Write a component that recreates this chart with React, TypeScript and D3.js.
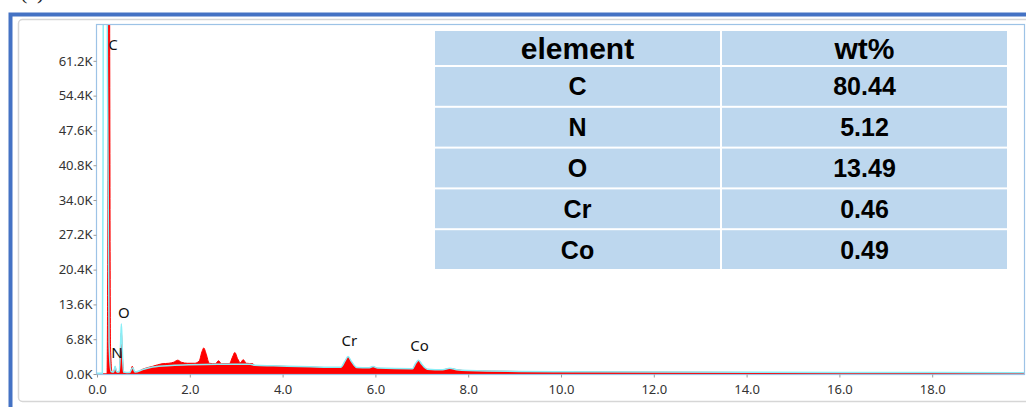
import { useEffect, useRef } from "react";
import * as d3 from "d3";

// EDS spectrum (keV, counts)
const spectrumKeV = [0, 0.215, 0.23, 0.245, 0.26, 0.275, 0.29, 0.32, 0.35, 0.375, 0.392, 0.41, 0.44, 0.48, 0.5, 0.525, 0.55, 0.58, 0.65, 0.72, 0.76, 0.8, 0.85, 1.0, 1.2, 1.4, 1.55, 1.65, 1.74, 1.82, 1.95, 2.1, 2.2, 2.26, 2.3, 2.35, 2.42, 2.55, 2.62, 2.68, 2.85, 2.92, 2.97, 3.03, 3.09, 3.15, 3.22, 3.36, 3.4, 3.8, 4.2, 4.6, 5.0, 5.25, 5.35, 5.41, 5.48, 5.6, 5.85, 5.95, 6.05, 6.4, 6.8, 6.87, 6.93, 7.0, 7.12, 7.45, 7.55, 7.65, 7.75, 8.0, 9.0, 10.0, 12.0, 14.0, 16.0, 18.0, 20.0];
const spectrumCounts = [0, 0, 20000, 110000, 130000, 60000, 6000, 600, 300, 900, 1400, 700, 200, 500, 3500, 8000, 3000, 300, 150, 300, 1500, 500, 400, 1000, 1500, 2000, 2100, 2300, 2700, 2300, 2100, 2100, 2500, 4300, 5100, 4000, 2100, 2000, 2600, 2000, 2000, 3300, 4200, 3000, 2200, 2800, 2100, 2000, 1650, 1550, 1450, 1350, 1250, 1250, 2500, 3300, 2400, 1200, 1150, 1400, 1100, 1000, 1000, 2000, 2600, 1800, 900, 800, 1000, 1050, 800, 650, 500, 420, 350, 300, 250, 220, 200];

// fitted envelope (cyan)
const fitKeV = [0, 0.115, 0.13, 0.145, 0.2, 0.225, 0.26, 0.3, 0.36, 0.39, 0.42, 0.48, 0.505, 0.525, 0.545, 0.57, 0.7, 0.77, 0.82, 1.0, 1.2, 1.6, 2.0, 2.6, 3.3, 3.4, 3.8, 4.6, 5.25, 5.35, 5.41, 5.48, 5.6, 5.85, 5.95, 6.05, 6.8, 6.87, 6.93, 7.0, 7.12, 7.45, 7.6, 7.75, 8.0, 10.0, 12.0, 16.0, 20.0];
const fitCounts = [150, 150, 40000, 140000, 140000, 60000, 6000, 500, 400, 1500, 500, 400, 5000, 9800, 5000, 400, 300, 1200, 400, 900, 1350, 1650, 1800, 1900, 1900, 1700, 1600, 1400, 1300, 2600, 3400, 2500, 1250, 1200, 1450, 1150, 1050, 2100, 2700, 1900, 950, 850, 1100, 850, 700, 450, 380, 300, 250];

const peakLabels = ["C", "O", "N", "Cr", "Co"];
const peakLabelKeV = [0.345, 0.58, 0.43, 5.44, 6.95];
const peakLabelCounts = [63300, 11000, 3200, 5400, 4500];

const xTicks = [0, 2, 4, 6, 8, 10, 12, 14, 16, 18];
const yTicks = [0, 6800, 13600, 20400, 27200, 34000, 40800, 47600, 54400, 61200];

const tableHeader = ["element", "wt%"];
const tableElements = ["C", "N", "O", "Cr", "Co"];
const tableWt = ["80.44", "5.12", "13.49", "0.46", "0.49"];

export default function App() {
  const svgRef = useRef<SVGSVGElement>(null);

  useEffect(() => {
    if (!svgRef.current) return;
    const width = 1026;
    const height = 407;
    const margin = { top: 24, right: 1, bottom: 33, left: 97 };

    const svg = d3.select(svgRef.current);
    svg.selectAll("*").remove();
    svg.attr("width", width).attr("height", height);

    // frame
    svg.append("text").attr("x", 20).attr("y", -1).attr("font-family", "Liberation Serif").attr("font-size", 22).attr("fill", "#222").text("(c)");
    svg.append("rect").attr("x", 10.5).attr("y", 14.5).attr("width", 1100).attr("height", 500)
      .attr("fill", "none").attr("stroke", "#4472c4").attr("stroke-width", 4);
    svg.append("rect").attr("x", 18.5).attr("y", 19.5).attr("width", 1100).attr("height", 382).attr("rx", 4)
      .attr("fill", "#fff").attr("stroke", "#d6d6d6").attr("stroke-width", 1.5);

    const x = d3.scaleLinear().domain([0, 20]).range([margin.left, width - margin.right]);
    const y = d3.scaleLinear().domain([0, 68400]).range([height - margin.bottom, margin.top]);

    svg.append("defs").append("clipPath").attr("id", "plotclip")
      .append("rect").attr("x", x(0)).attr("y", y(68400)).attr("width", x(20) - x(0)).attr("height", y(0) - y(68400));

    const spectrum = spectrumKeV.map((k, i) => ({ k, c: spectrumCounts[i] }));
    const fit = fitKeV.map((k, i) => ({ k, c: fitCounts[i] }));

    const area = d3.area<{ k: number; c: number }>()
      .x(d => x(d.k)).y0(y(0)).y1(d => y(d.c)).curve(d3.curveMonotoneX);
    const line = d3.line<{ k: number; c: number }>()
      .x(d => x(d.k)).y(d => y(d.c)).curve(d3.curveMonotoneX);

    const g = svg.append("g").attr("clip-path", "url(#plotclip)");
    g.append("path").datum(spectrum).attr("d", area).attr("fill", "#ff0000").attr("stroke", "#ff0000").attr("stroke-width", 1);
    g.append("path").datum(fit).attr("d", line).attr("fill", "none").attr("stroke", "#8aeef6").attr("stroke-width", 1.5);

    // plot frame
    svg.append("rect").attr("x", x(0) - 0.5).attr("y", y(68400) + 0.5).attr("width", x(20) - x(0)).attr("height", y(0) - y(68400))
      .attr("fill", "none").attr("stroke", "#9dc3e6").attr("stroke-width", 1.2);

    // axes
    const yAxis = svg.append("g").attr("transform", `translate(${x(0) - 0.5},0)`)
      .call(d3.axisLeft(y).tickValues(yTicks).tickSize(3).tickPadding(1).tickFormat(d => `${((d as number) / 1000).toFixed(1)}K`));
    yAxis.select(".domain").remove();
    yAxis.selectAll("line").attr("stroke", "#999");
    yAxis.selectAll("text").attr("font-family", "Noto Sans").attr("font-size", 13).attr("fill", "#333");

    const xAxis = svg.append("g").attr("transform", `translate(0,${y(0) + 0.5})`)
      .call(d3.axisBottom(x).tickValues(xTicks).tickSize(3).tickPadding(7).tickFormat(d => (d as number).toFixed(1)));
    xAxis.select(".domain").remove();
    xAxis.selectAll("line").attr("stroke", "#999");
    xAxis.selectAll("text").attr("font-family", "Noto Sans").attr("font-size", 13).attr("fill", "#333");

    // peak labels
    peakLabels.forEach((p, i) => {
      svg.append("text").attr("x", x(peakLabelKeV[i])).attr("y", y(peakLabelCounts[i]))
        .attr("text-anchor", "middle").attr("font-family", "Noto Sans").attr("font-size", 15).attr("fill", "#111").text(p);
    });

    // table
    const colX = [435, 722];
    const colW = 285;
    const headerH = 36;
    const rowH = 40.8;
    const tTop = 31;
    const tbl = svg.append("g");
    tableHeader.forEach((h, c) => {
      tbl.append("rect").attr("x", colX[c]).attr("y", tTop).attr("width", colW).attr("height", headerH - 2).attr("fill", "#bdd7ee");
      tbl.append("text").attr("x", colX[c] + colW / 2).attr("y", tTop + headerH / 2 + 10)
        .attr("text-anchor", "middle").attr("font-family", "Liberation Sans").attr("font-weight", "bold").attr("font-size", 30).attr("fill", "#000").text(h);
    });
    tableElements.forEach((el, r) => {
      const ry = tTop + headerH + r * rowH;
      [el, tableWt[r]].forEach((v, c) => {
        tbl.append("rect").attr("x", colX[c]).attr("y", ry).attr("width", colW).attr("height", rowH - 2).attr("fill", "#bdd7ee");
        tbl.append("text").attr("x", colX[c] + colW / 2).attr("y", ry + rowH / 2 + 8)
          .attr("text-anchor", "middle").attr("font-family", "Liberation Sans").attr("font-weight", "bold").attr("font-size", 25).attr("fill", "#000").text(v);
      });
    });
  }, []);

  return (
    <div style={{ width: 1026, height: 407, overflow: "hidden" }}>
      <style>{"body{margin:0}"}</style>
      <svg ref={svgRef} style={{ display: "block", overflow: "visible" }} />
    </div>
  );
}
